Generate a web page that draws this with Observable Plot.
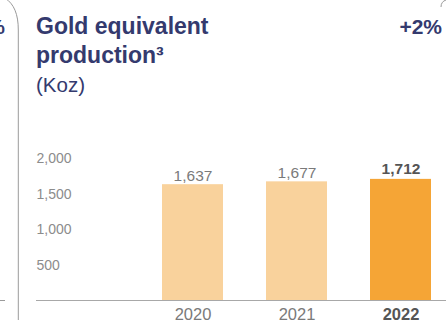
<!DOCTYPE html>
<html>
<head>
<meta charset="utf-8">
<script src="https://cdn.jsdelivr.net/npm/d3@7"></script>
<script src="https://cdn.jsdelivr.net/npm/@observablehq/plot@0.6"></script>
<style>
  html, body { margin: 0; padding: 0; background: #fff; }
  #wrap { position: relative; width: 446px; height: 320px; overflow: hidden; font-family: "Liberation Sans", Arial, sans-serif; }
  #wrap svg.plot { position: absolute; left: 0; top: 0; }
  .title { position: absolute; left: 36px; top: 11.8px; font-weight: bold; font-size: 23px; line-height: 29px; color: #343a6e; white-space: nowrap; }
  .unit { position: absolute; left: 36px; top: 74.6px; font-size: 20.5px; line-height: 20.5px; color: #343a6e; }
  .change { position: absolute; right: 4px; top: 11.8px; font-weight: bold; font-size: 21px; line-height: 29px; color: #343a6e; }
  .prev { position: absolute; right: 441px; top: 11.8px; font-weight: bold; font-size: 21px; line-height: 29px; color: #343a6e; }
  #deco { position: absolute; left: 0; top: 0; }
</style>
</head>
<body>
<div id="wrap">
  <div class="prev">%</div>
  <div class="title">Gold equivalent<br>production³</div>
  <div class="unit">(Koz)</div>
  <div class="change">+2%</div>
  <svg id="deco" width="446" height="320">
    <path d="M18.3 320 L18.3 30 C18.3 14 14 4 5 -2" fill="none" stroke="#9a9a9a" stroke-width="1"/>
    <path d="M0 300.5 L5 300.5" fill="none" stroke="#9a9a9a" stroke-width="1"/>
    <path d="M441 7 C441 3 443 1 446 0" fill="none" stroke="#9a9a9a" stroke-width="1"/>
  </svg>
</div>
<script>
const years = ["2020", "2021", "2022"];
const production = [1637, 1677, 1712];
const valueLabels = ["1,637", "1,677", "1,712"];
const yTicks = [500, 1000, 1500, 2000];
const yTickLabels = ["500", "1,000", "1,500", "2,000"];
const highlightYear = "2022";

const data = years.map((y, i) => ({year: y, value: production[i], label: valueLabels[i]}));
const ticks = yTicks.map((v, i) => ({value: v, label: yTickLabels[i]}));
const regular = data.filter(d => d.year !== highlightYear);
const bold = data.filter(d => d.year === highlightYear);

const chart = Plot.plot({
  width: 446,
  height: 320,
  marginLeft: 36,
  marginRight: 0,
  marginTop: 0,
  marginBottom: 20,
  style: {fontFamily: "'Liberation Sans', Arial, sans-serif", background: "transparent", overflow: "visible"},
  x: {domain: years, range: [161, 431], paddingInner: 0.416, paddingOuter: 0, axis: null},
  y: {domain: [0, 2000], range: [300, 158.5], axis: null},
  marks: [
    Plot.barY(data, {x: "year", y: "value", fill: d => d.year === highlightYear ? "#f5a536" : "#f9d29c"}),
    Plot.ruleY([0], {stroke: "#a8a8a8", strokeWidth: 1}),
    Plot.text(ticks, {y: "value", text: "label", frameAnchor: "left", textAnchor: "start", fill: "#8c8c8c", fontSize: 14}),
    Plot.text(regular, {x: "year", y: "value", text: "label", dy: -9, fill: "#7a7a7a", fontSize: 15.5}),
    Plot.text(bold, {x: "year", y: "value", text: "label", dy: -10.6, fill: "#555", fontSize: 15.5, fontWeight: "bold"}),
    Plot.text(regular, {x: "year", y: 0, text: "year", dy: 14, fill: "#7a7a7a", fontSize: 16.5}),
    Plot.text(bold, {x: "year", y: 0, text: "year", dy: 14, fill: "#555", fontSize: 16.5, fontWeight: "bold"})
  ]
});
chart.classList.add("plot");
document.getElementById("wrap").insertBefore(chart, document.getElementById("deco"));
</script>
</body>
</html>
